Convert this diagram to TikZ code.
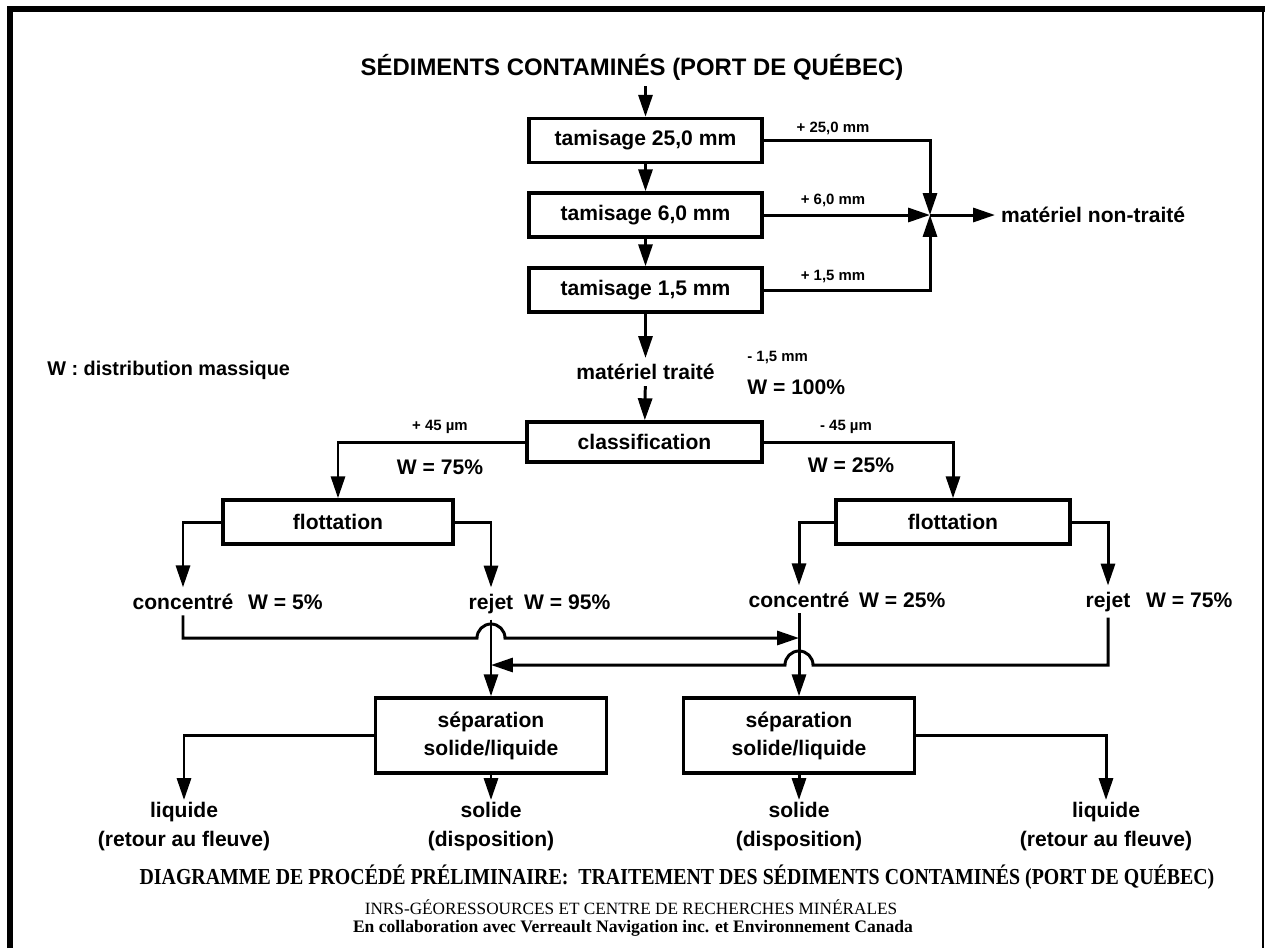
\documentclass[tikz,border=0pt]{standalone}
\usepackage{fontspec}
\setmainfont{Liberation Sans}
\newfontfamily\captionfont{Liberation Serif}
\newfontfamily\headlinefont[FakeStretch=0.87]{Liberation Serif}
\usetikzlibrary{arrows.meta}

\begin{document}
\begin{tikzpicture}[x=0.02cm,y=-0.02cm,
  font=\bfseries\fontsize{12}{14}\selectfont,
  >={Triangle[length=12.5pt,width=8pt]},
  flow/.style={line width=1.7pt},
  box/.style={draw,line width=2pt,inner sep=0pt,minimum height=0.88cm},
  small/.style={font=\bfseries\fontsize{8.5}{10}\selectfont},
  stream/.style={anchor=base},
  outlbl/.style={anchor=north,align=center,inner sep=1pt,font=\bfseries\fontsize{12}{16.5}\selectfont}]
\useasboundingbox (0,0) rectangle (1265,948);
\draw[line width=3pt] (10,948) -- (10,9) -- (1265,9);
\draw[line width=1pt] (1263,9) -- (1263,948);

\node (src) at (632,67) {\fontsize{13.6}{15}\selectfont SÉDIMENTS CONTAMINÉS (PORT DE QUÉBEC)};
\node[box,minimum width=4.66cm] (t25) at (645.5,140.5) {tamisage 25,0 mm};
\node[box,minimum width=4.66cm] (t6) at (645.5,215) {tamisage 6,0 mm};
\node[box,minimum width=4.66cm] (t15) at (645.5,290) {tamisage 1,5 mm};
\coordinate (jn) at (930,215);
\node[anchor=west] (nt) at (995,215) {matériel non-traité};
\node[small] at (833,128) {+ 25,0 mm};
\node[small] at (833,200) {+ 6,0 mm};
\node[small] at (833,277) {+ 1,5 mm};

\node[anchor=west,inner sep=0pt,font=\bfseries\fontsize{11.3}{13}\selectfont] at (47,370) {W : distribution massique};
\node (mt) at (645.5,372) {matériel traité};
\node[small,anchor=west,inner sep=0pt] at (747,358) {- 1,5 mm};
\node[anchor=west,inner sep=0pt] at (747,387) {W = 100\%};
\node[box,minimum width=4.7cm,minimum height=0.8cm] (cls) at (644.5,442) {classification};
\node[small] at (440,427) {+ 45 µm};
\node at (440,467) {W = 75\%};
\node[small] at (846,427) {- 45 µm};
\node at (851,465) {W = 25\%};

\node[box,minimum width=4.6cm] (fl1) at (338,522) {flottation};
\node[box,minimum width=4.68cm] (fl2) at (953,522) {flottation};
\node[stream] (c1) at (183,609) {concentré};
\node[stream,anchor=base west] at (242,609) {W = 5\%};
\node[stream] (r1) at (491,609) {rejet};
\node[stream,anchor=base west] at (518,609) {W = 95\%};
\node[stream] (c2) at (799,607) {concentré};
\node[stream,anchor=base west] at (853,607) {W = 25\%};
\node[stream] (r2) at (1108,607) {rejet};
\node[stream,anchor=base west] at (1140,607) {W = 75\%};
\coordinate (hop1) at (491,638);
\coordinate (hop2) at (799,665);

\node[box,minimum width=4.62cm,minimum height=1.5cm,align=center,font=\bfseries\fontsize{12}{16}\selectfont] (sp1) at (491,735.5) {séparation\\solide/liquide};
\node[box,minimum width=4.62cm,minimum height=1.5cm,align=center,font=\bfseries\fontsize{12}{16}\selectfont] (sp2) at (799,735.5) {séparation\\solide/liquide};
\node[outlbl] (lq1) at (184,800) {liquide\\(retour au fleuve)};
\node[outlbl] (sd1) at (491,800) {solide\\(disposition)};
\node[outlbl] (sd2) at (799,800) {solide\\(disposition)};
\node[outlbl] (lq2) at (1106,800) {liquide\\(retour au fleuve)};

\node[font=\headlinefont\bfseries\fontsize{13}{15}\selectfont] at (677,877) {DIAGRAMME DE PROCÉDÉ PRÉLIMINAIRE:\ \ TRAITEMENT DES SÉDIMENTS CONTAMINÉS (PORT DE QUÉBEC)};
\node[font=\captionfont\fontsize{9.8}{11}\selectfont] at (631,907) {INRS-GÉORESSOURCES ET CENTRE DE RECHERCHES MINÉRALES};
\node[font=\captionfont\bfseries\fontsize{10}{11}\selectfont] at (633,928) {En collaboration avec Verreault Navigation inc. et Environnement Canada};

\draw[flow,->] (src.south -| t25) -- (t25);
\draw[flow,->] (t25) -- (t6);
\draw[flow,->] (t6) -- (t15);
\draw[flow,->] (t25.east) -| (jn);
\draw[flow,->] (t6.east) -- (jn);
\draw[flow,->] (t15.east) -| (jn);
\draw[flow,->] (jn) -- (nt.west);
\draw[flow,->] (t15) -- (mt);
\draw[flow,->] (mt) -- (cls);
\draw[flow,->] (cls.west) -| (fl1.north);
\draw[flow,->] (cls.east) -| (fl2.north);
\draw[flow,->] (fl1.west) -| (c1.north);
\draw[flow,->] (fl1.east) -| (r1.north);
\draw[flow,->] (fl2.west) -| (c2.north);
\draw[flow,->] (fl2.east) -| (r2.north);
\draw[flow,->] (c1.south) |- ([xshift=-0.28cm]hop1) arc[start angle=180,end angle=0,radius=0.28cm] -- (c2.south |- hop1);
\draw[flow,->] (r2.south) |- ([xshift=0.28cm]hop2) arc[start angle=0,end angle=180,radius=0.28cm] -- (r1.south |- hop2);
\draw[flow,->] (r1.south) -- (sp1.north);
\draw[flow,->] (c2.south) -- (sp2.north);
\draw[flow,->] (sp1.west) -| (lq1.north);
\draw[flow,->] (sp1.south) -- (sd1.north);
\draw[flow,->] (sp2.south) -- (sd2.north);
\draw[flow,->] (sp2.east) -| (lq2.north);
\end{tikzpicture}
\end{document}
